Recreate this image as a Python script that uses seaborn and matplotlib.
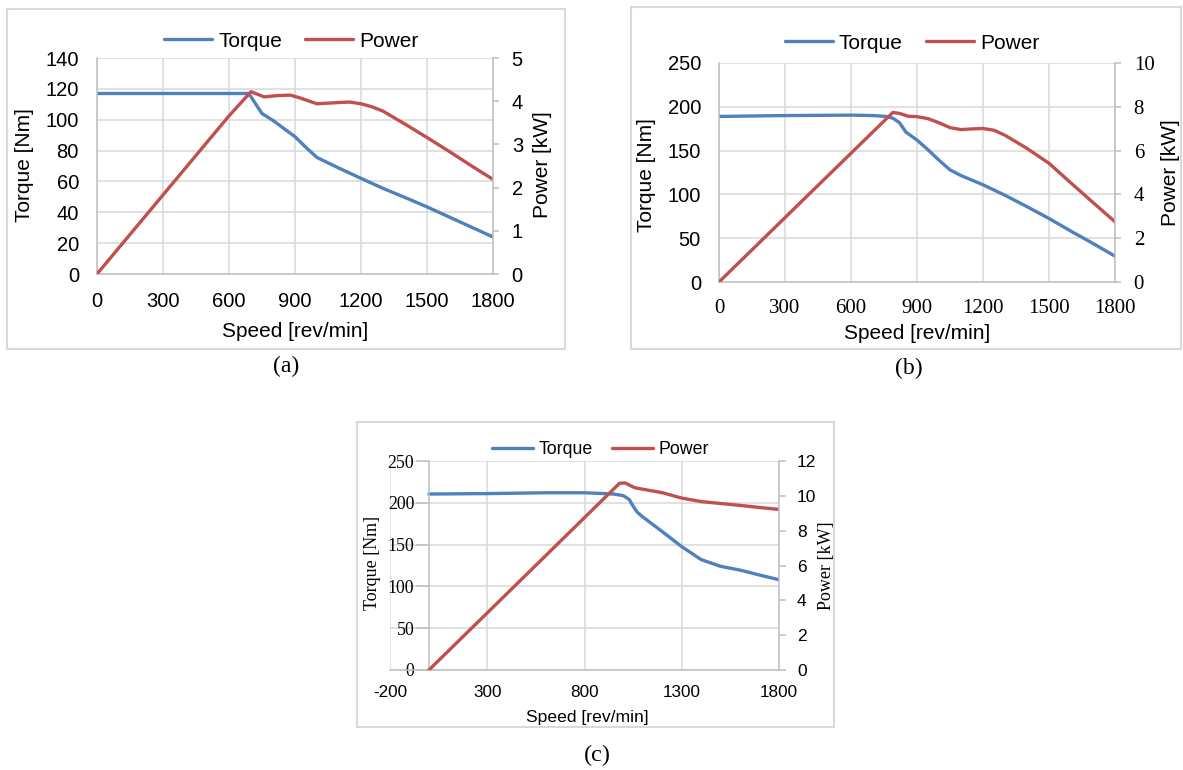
import matplotlib
matplotlib.use('Agg')
import matplotlib.pyplot as plt
import seaborn as sns
from matplotlib.patches import Rectangle

# ---- data ----
# (a)
a_torque_speed = [0, 300, 600, 690, 750, 800, 900, 950, 1000, 1100, 1200, 1300, 1400, 1500, 1600, 1700, 1800]
a_torque = [117, 117, 117, 117, 104, 99.5, 89, 82, 75.5, 68.6, 62, 55.5, 49.6, 43.5, 37, 30.5, 24]
a_power_speed = [0, 300, 600, 700, 760, 820, 880, 920, 1000, 1100, 1150, 1200, 1250, 1300, 1400, 1500, 1600, 1700, 1800]
a_power = [0, 1.83, 3.66, 4.22, 4.10, 4.13, 4.14, 4.08, 3.94, 3.97, 3.98, 3.94, 3.87, 3.77, 3.47, 3.16, 2.84, 2.51, 2.19]

# (b)
b_torque_speed = [0, 300, 600, 700, 760, 790, 820, 850, 900, 950, 1000, 1050, 1100, 1200, 1300, 1400, 1500, 1600, 1700, 1800]
b_torque = [189, 190, 190.5, 190, 189, 187, 182, 171, 162, 151, 139, 128, 121.5, 111, 99, 86, 72.5, 58, 44, 29.5]
b_power_speed = [0, 300, 600, 790, 820, 860, 900, 950, 1000, 1050, 1100, 1150, 1200, 1250, 1300, 1400, 1500, 1600, 1700, 1800]
b_power = [0, 2.94, 5.88, 7.74, 7.70, 7.57, 7.55, 7.46, 7.27, 7.05, 6.96, 6.99, 7.01, 6.93, 6.70, 6.10, 5.42, 4.52, 3.63, 2.75]

# (c)
c_torque_speed = [0, 300, 600, 800, 900, 950, 1000, 1030, 1050, 1070, 1100, 1200, 1300, 1400, 1450, 1500, 1600, 1700, 1800]
c_torque = [210.5, 211, 212, 212, 211, 210.5, 208.5, 204, 196, 189, 183, 165.5, 147.5, 132, 128, 124, 119.5, 113.6, 108]
c_power_speed = [0, 300, 600, 800, 980, 1010, 1030, 1060, 1100, 1200, 1300, 1400, 1500, 1600, 1700, 1800]
c_power = [0, 3.28, 6.56, 8.75, 10.72, 10.74, 10.62, 10.46, 10.38, 10.18, 9.87, 9.67, 9.56, 9.45, 9.33, 9.22]

series_names = ['Torque', 'Power']
x_label = 'Speed [rev/min]'
y_label_left = 'Torque [Nm]'
y_label_right = 'Power [kW]'

sns.set_style('white')
plt.rcParams['font.family'] = ['Liberation Sans', 'DejaVu Sans']
plt.rcParams['axes.unicode_minus'] = False
plt.rcParams['text.color'] = 'black'
plt.rcParams['axes.labelcolor'] = 'black'
plt.rcParams['xtick.labelcolor'] = 'black'
plt.rcParams['ytick.labelcolor'] = 'black'

BLUE = '#4f81bd'
RED = '#c0504d'
GRID = '#d9d9d9'
AXIS = '#bfbfbf'
SANS = 'Liberation Sans'
SERIF = 'Liberation Serif'
W, H = 1183, 770

fig = plt.figure(figsize=(W / 100, H / 100), dpi=100)


def px_axes(l, t, r, b):
    return fig.add_axes([l / W, 1 - b / H, (r - l) / W, (b - t) / H])


def frame(l, t, r, b):
    fig.patches.append(Rectangle((l / W, 1 - b / H), (r - l) / W, (b - t) / H,
                                 transform=fig.transFigure, fill=False,
                                 edgecolor=GRID, lw=1.5))


def panel(box, xs_t, ys_t, xs_p, ys_p, xlim, xticks, tlim, tticks, plim, pticks):
    ax = px_axes(*box)
    ax2 = ax.twinx()
    sns.lineplot(x=xs_t, y=ys_t, ax=ax, color=BLUE, lw=2.4, label=series_names[0],
                 solid_capstyle='round')
    sns.lineplot(x=xs_p, y=ys_p, ax=ax2, color=RED, lw=2.4, label=series_names[1],
                 solid_capstyle='round')
    for a in (ax, ax2):
        if a.get_legend() is not None:
            a.get_legend().remove()
    ax.set_xlim(*xlim)
    ax.set_xticks(xticks)
    ax.set_ylim(*tlim)
    ax.set_yticks(tticks)
    ax2.set_ylim(*plim)
    ax2.set_yticks(pticks)
    ax.grid(True, color=GRID, lw=1.1)
    ax.set_axisbelow(True)
    ax2.grid(False)
    for s in ('top', 'right'):
        ax.spines[s].set_visible(False)
    for s in ('top', 'left', 'bottom'):
        ax2.spines[s].set_visible(False)
    for s in ('left', 'bottom'):
        ax.spines[s].set_color(AXIS)
        ax.spines[s].set_linewidth(1.1)
    ax2.spines['right'].set_color(AXIS)
    ax2.spines['right'].set_linewidth(1.1)
    return ax, ax2


def add_legend(ax, ax2, x, y, size):
    h1, l1 = ax.get_legend_handles_labels()
    h2, l2 = ax2.get_legend_handles_labels()
    ax2.legend(h1 + h2, l1 + l2, loc='center', bbox_to_anchor=(x, y), ncol=2,
               frameon=False, fontsize=size, handlelength=2.3, handletextpad=0.3,
               columnspacing=1.1, borderaxespad=0, labelcolor='black')


# ---------------- panel (a) ----------------
frame(7, 9, 565, 349)
ax, ax2 = panel((97, 58, 493, 274), a_torque_speed, a_torque, a_power_speed, a_power,
                (0, 1800), range(0, 1801, 300), (0, 140), range(0, 141, 20),
                (0, 5), range(0, 6))
ax.tick_params(axis='both', length=0, pad=13, labelsize=14.5)
ax2.tick_params(axis='y', direction='out', length=4.5, width=1.1, color=AXIS, pad=9, labelsize=14.5)
ax.set_xlabel(x_label, fontsize=15, va='center')
ax.xaxis.set_label_coords(0.5, -0.264)
ax.set_ylabel(y_label_left, fontsize=15, va='center')
ax.yaxis.set_label_coords(-0.184, 0.505)
ax2.set_ylabel(y_label_right, fontsize=15, va='center')
ax2.yaxis.set_label_coords(1.126, 0.505)
add_legend(ax, ax2, 0.49, 1.078, 15)
fig.text(286 / W, 1 - 366 / H, '(a)', fontfamily=SERIF, fontsize=17, ha='center', va='center')

# ---------------- panel (b) ----------------
frame(631, 7, 1181, 349)
ax, ax2 = panel((719, 63, 1115, 282), b_torque_speed, b_torque, b_power_speed, b_power,
                (0, 1800), range(0, 1801, 300), (0, 250), range(0, 251, 50),
                (0, 10), range(0, 11, 2))
ax.tick_params(axis='y', length=0, pad=13, labelsize=14.5)
ax.tick_params(axis='x', length=0, pad=12, labelsize=15, labelfontfamily=SERIF)
ax2.tick_params(axis='y', direction='out', length=4.5, width=1.1, color=AXIS, pad=9,
                labelsize=15, labelfontfamily=SERIF)
ax.set_xlabel(x_label, fontsize=15, va='center')
ax.xaxis.set_label_coords(0.5, -0.237)
ax.set_ylabel(y_label_left, fontsize=15, va='center')
ax.yaxis.set_label_coords(-0.184, 0.49)
ax2.set_ylabel(y_label_right, fontsize=15, va='center')
ax2.yaxis.set_label_coords(1.139, 0.5)
add_legend(ax, ax2, 0.487, 1.091, 15)
fig.text(909 / W, 1 - 368 / H, '(b)', fontfamily=SERIF, fontsize=17, ha='center', va='center')

# ---------------- panel (c) ----------------
frame(357, 422, 834, 727)
ax, ax2 = panel((390, 461, 779, 670), c_torque_speed, c_torque, c_power_speed, c_power,
                (-200, 1800), range(-200, 1801, 500), (0, 250), range(0, 251, 50),
                (0, 12), range(0, 13, 2))
ax.spines['left'].set_position(('data', 0))
ax.tick_params(axis='y', direction='out', length=9.5, width=1.1, color=AXIS, pad=1,
               labelsize=12.8, labelfontfamily=SERIF)
ax.tick_params(axis='x', length=0, pad=11, labelsize=12.3)
ax2.tick_params(axis='y', direction='out', length=5, width=1.1, color=AXIS, pad=8, labelsize=12.5)
ax.set_xlabel(x_label, fontsize=12.6, va='center')
ax.xaxis.set_label_coords(0.506, -0.225)
ax.set_ylabel(y_label_left, fontsize=13, fontfamily=SERIF, va='center')
ax.yaxis.set_label_coords(-0.044, 0.51)
ax2.set_ylabel(y_label_right, fontsize=13, fontfamily=SERIF, va='center')
ax2.yaxis.set_label_coords(1.123, 0.5)
add_legend(ax, ax2, 0.542, 1.053, 12.8)
fig.text(597 / W, 1 - 755 / H, '(c)', fontfamily=SERIF, fontsize=17.5, ha='center', va='center')

fig.savefig('out.png', dpi=100)
